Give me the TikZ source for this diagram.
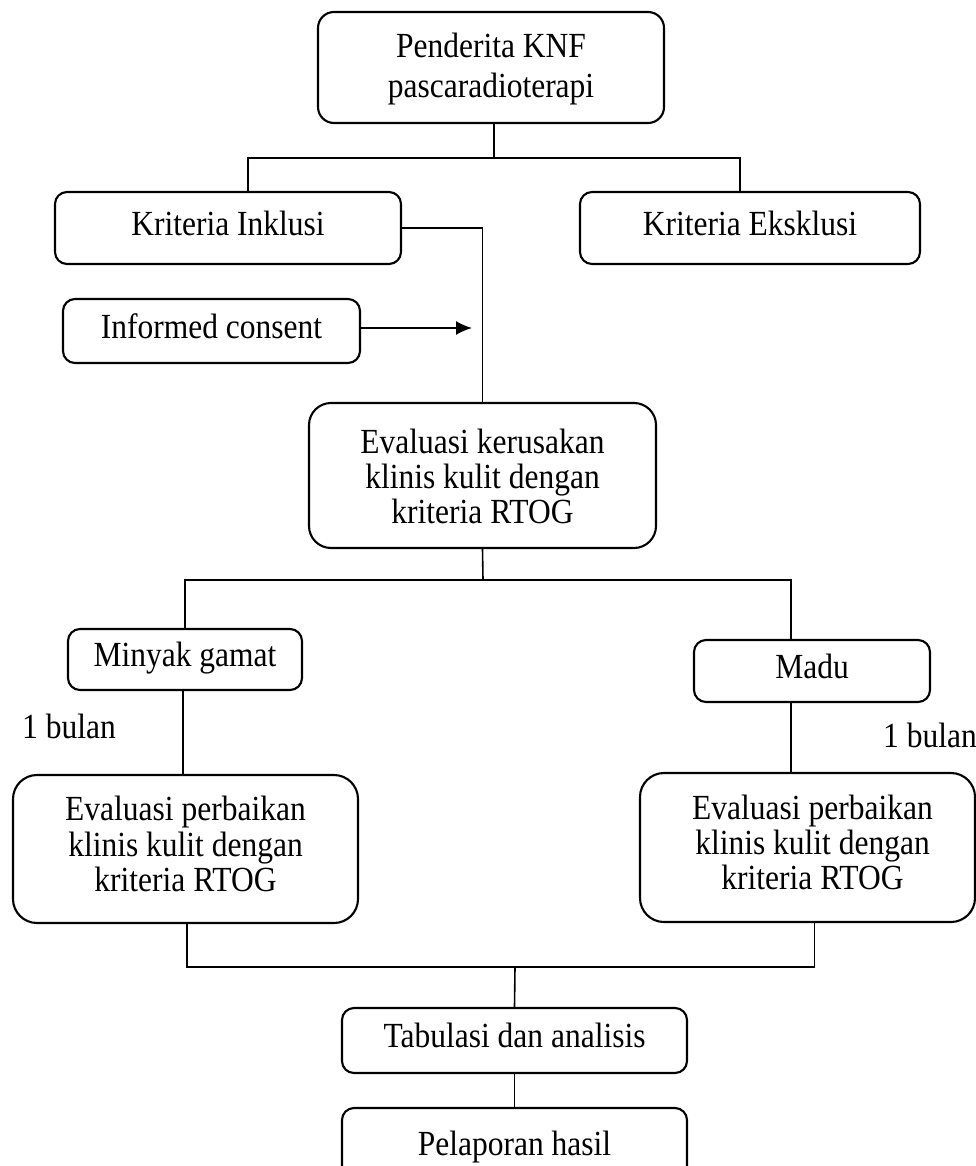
\documentclass[tikz,border=0pt]{standalone}
\usepackage{fontspec}
\setmainfont{Liberation Serif}
\usepackage{graphicx}
\usetikzlibrary{arrows.meta}
\newcommand\tx[2][0pt]{\raisebox{-#1}[\height][\depth]{\scalebox{1}[1.12]{\begin{tabular}{@{}c@{}}#2\end{tabular}}}}
\begin{document}
\begin{tikzpicture}[x=1pt,y=-1pt,
  box/.style={draw, line width=2.1pt, rounded corners=#1, inner sep=0pt,
              font=\fontsize{31.5}{31.5}\selectfont},
  box/.default=12pt,
  conn/.style={line width=1.6pt},
  lbl/.style={inner sep=0pt, font=\fontsize{31.5}{31.5}\selectfont}]
\useasboundingbox (0,0) rectangle (976,1166);

% nodes
\node[box=16pt, minimum width=346pt, minimum height=111pt] (pend) at (491,67.5)
  {\tx[3pt]{Penderita KNF\\[4pt] pascaradioterapi}};
\node[box, minimum width=346pt, minimum height=72pt] (inkl) at (228,228)
  {\tx{Kriteria Inklusi}};
\node[box, minimum width=340pt, minimum height=72pt] (eksk) at (750,228)
  {\tx{Kriteria Eksklusi}};
\node[box, minimum width=297pt, minimum height=64pt] (cons) at (211.5,331)
  {\tx{Informed consent}};
\node[box=22pt, minimum width=347pt, minimum height=145pt] (evk) at (482.5,475.5)
  {\tx[6pt]{Evaluasi kerusakan\\ klinis kulit dengan\\ kriteria RTOG}};
\node[box, minimum width=234pt, minimum height=61pt] (mg) at (185,659.5)
  {\tx{Minyak gamat}};
\node[box, minimum width=236pt, minimum height=62pt] (madu) at (812,671)
  {\tx{Madu}};
\node[box=24pt, minimum width=345pt, minimum height=148pt] (evl) at (185.5,849)
  {\tx{Evaluasi perbaikan\\ klinis kulit dengan\\ kriteria RTOG}};
\node[box=24pt, minimum width=335pt, minimum height=149pt] (evr) at (807.5,847.5)
  {\tx{\hspace*{10pt}Evaluasi perbaikan\\ \hspace*{10pt}klinis kulit dengan\\ \hspace*{10pt}kriteria RTOG}};
\node[box, minimum width=345pt, minimum height=65pt] (tab) at (514.5,1040.5)
  {\tx{Tabulasi dan analisis}};
\node[box, minimum width=345pt, minimum height=80pt] (pel) at (514.5,1148)
  {\tx{Pelaporan hasil}};

\node[lbl] (b1) at (69,731) {\tx{1 bulan}};
\node[lbl, anchor=east] (b2) at (977,740) {\tx{1 bulan}};

% junctions
\coordinate (j1) at (494,158);
\coordinate (j2) at (483,580);
\coordinate (j3) at (515,967);
\coordinate (ca) at (472,328);

% connectors
\draw[conn] ([xshift=3pt]pend.south) -- (j1);
\draw[conn] ([xshift=20pt]inkl.north) |- (j1) -| ([xshift=-10pt]eksk.north);
\draw[conn] (inkl.east) -| (evk.north);
\draw[conn, -{Latex[length=16pt,width=14pt]}] (cons.east |- ca) -- (ca);

\draw[conn] (evk.south) -- (j2);
\draw[conn] (mg.north) |- (j2) -| ([xshift=-21pt]madu.north);
\draw[conn] ([xshift=-2pt]mg.south) -- ([xshift=-2pt]mg.south |- evl.north);
\draw[conn] ([xshift=-21pt]madu.south) -- ([xshift=-21pt]madu.south |- evr.north);

\draw[conn] ([xshift=1.5pt]evl.south) |- (j3) -| ([xshift=7pt]evr.south);
\draw[conn] (j3) -- (tab.north);
\draw[conn] (tab.south) -- (pel.north);
\end{tikzpicture}
\end{document}
